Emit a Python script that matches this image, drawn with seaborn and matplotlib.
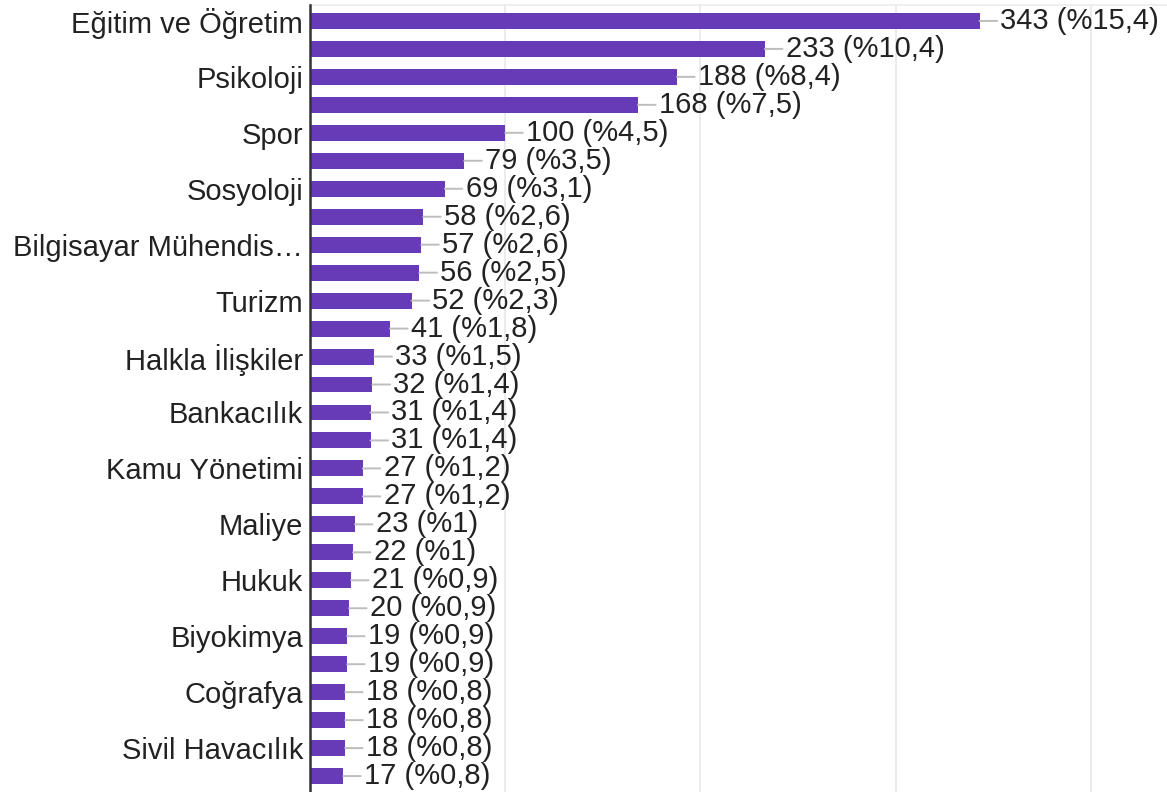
import matplotlib
matplotlib.use("Agg")
import matplotlib.pyplot as plt
import seaborn as sns

# Values (only every other category name is printed on the axis)
labels = [
    "Eğitim ve Öğretim", "", "Psikoloji", "", "Spor", "", "Sosyoloji", "",
    "Bilgisayar Mühendis…", "", "Turizm", "", "Halkla İlişkiler", "",
    "Bankacılık", "", "Kamu Yönetimi", "", "Maliye", "", "Hukuk", "",
    "Biyokimya", "", "Coğrafya", "", "Sivil Havacılık", "",
]
counts = [343, 233, 188, 168, 100, 79, 69, 58, 57, 56, 52, 41, 33, 32,
          31, 31, 27, 27, 23, 22, 21, 20, 19, 19, 18, 18, 18, 17]
percents = ["15,4", "10,4", "8,4", "7,5", "4,5", "3,5", "3,1", "2,6", "2,6",
            "2,5", "2,3", "1,8", "1,5", "1,4", "1,4", "1,4", "1,2", "1,2",
            "1", "1", "0,9", "0,9", "0,9", "0,9", "0,8", "0,8", "0,8", "0,8"]
positions = list(range(len(counts)))

sns.set_theme(style="white")
plt.rcParams['font.family'] = ['Liberation Sans', 'DejaVu Sans']

fig = plt.figure(figsize=(11.67, 7.92), dpi=100)
ax = fig.add_axes([310 / 1167, 0.0, 1 - 310 / 1167, 1 - 5 / 792])

sns.barplot(x=counts, y=positions, orient="h", color="#673ab7",
            saturation=1, width=0.57, linewidth=0, ax=ax, zorder=2)

ax.set_xlim(0, 439)
ax.set_ylim(27.57, -0.57)
ax.set_xticks([100, 200, 300, 400])
ax.set_xticklabels([])
ax.grid(axis="x", color="#ebebeb", linewidth=1.4, zorder=0)
ax.set_axisbelow(True)

ax.set_yticks(positions)
ax.set_yticklabels(labels, fontsize=21, color="#222222")
ax.tick_params(axis="y", length=0, pad=5)
ax.tick_params(axis="x", length=0)
ax.set_xlabel("")
ax.set_ylabel("")

for side in ["right", "bottom"]:
    ax.spines[side].set_visible(False)
ax.spines["top"].set_color("#ebebeb")
ax.spines["top"].set_linewidth(1.2)
ax.spines["left"].set_color("#333333")
ax.spines["left"].set_linewidth(1.8)
ax.spines["left"].set_zorder(3)

for pos, n, pct in zip(positions, counts, percents):
    ax.annotate(
        f"{n} (%{pct})", xy=(n, pos), xytext=(15, 0),
        textcoords="offset points", va="center", ha="left",
        fontsize=21, color="#222222", annotation_clip=False,
        arrowprops=dict(arrowstyle="-", color="#bdbdbd", lw=1.4,
                        shrinkA=0, shrinkB=0),
    )

fig.savefig("out.png", dpi=100)
